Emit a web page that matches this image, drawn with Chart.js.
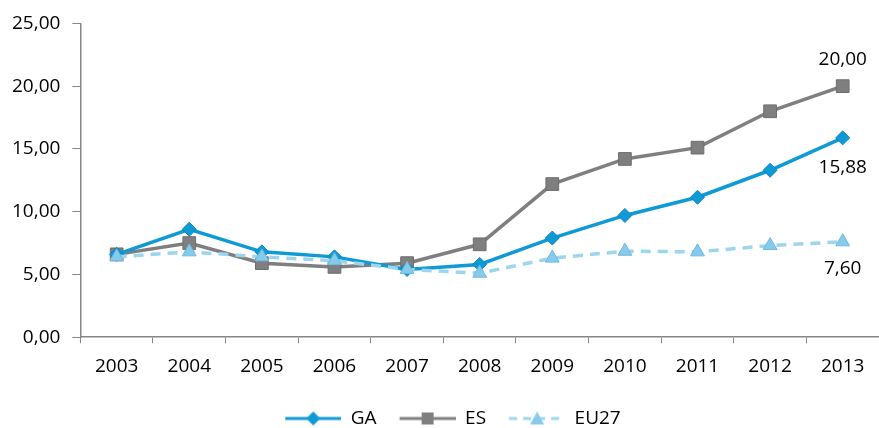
<!DOCTYPE html>
<html lang="en">
<head>
    <meta charset="UTF-8">
    <title>GA ES EU27</title>
    <script src="https://cdn.jsdelivr.net/npm/chart.js"></script>
    <style>
        html, body { margin: 0; padding: 0; background: #fff; overflow: hidden; }
        #wrap { width: 879px; height: 428px; }
    </style>
</head>
<body>
    <div id="wrap"><canvas id="chartCanvas"></canvas></div>

    <script>
        const years = ['2003', '2004', '2005', '2006', '2007', '2008', '2009', '2010', '2011', '2012', '2013'];
        const gaValues = [6.6, 8.6, 6.8, 6.4, 5.4, 5.8, 7.9, 9.7, 11.15, 13.3, 15.88];
        const esValues = [6.6, 7.5, 5.9, 5.6, 5.9, 7.4, 12.2, 14.2, 15.1, 18.0, 20.0];
        const eu27Values = [6.4, 6.8, 6.4, 6.1, 5.4, 5.1, 6.3, 6.85, 6.8, 7.3, 7.6];
        const yTicks = [0, 5, 10, 15, 20, 25];

        const FONT = '"Open Sans", "Noto Sans", sans-serif';
        const fmt = v => v.toFixed(2).replace('.', ',');

        // legend swatch: line + marker, with some blank room on the left as item spacing
        const GAP = 22;
        function swatch(color, style, dashed) {
            const c = document.createElement('canvas');
            c.width = 56 + GAP; c.height = 18;
            const g = c.getContext('2d');
            g.translate(GAP, 0);
            g.strokeStyle = color;
            g.lineWidth = 3;
            if (dashed) g.setLineDash([8, 6]);
            g.beginPath(); g.moveTo(0, 9); g.lineTo(56, 9); g.stroke();
            g.setLineDash([]);
            g.fillStyle = style === 'triangle' ? '#86cbeb' : color;
            g.beginPath();
            if (style === 'diamond') {
                g.moveTo(28, 2); g.lineTo(35, 9); g.lineTo(28, 16); g.lineTo(21, 9);
            } else if (style === 'square') {
                g.rect(22, 3, 12, 12);
            } else {
                g.moveTo(28, 2); g.lineTo(35, 15); g.lineTo(21, 15);
            }
            g.closePath(); g.fill();
            return c;
        }

        // value labels on the last point of each series
        const endLabels = {
            id: 'endLabels',
            afterDatasetsDraw(chart) {
                const ctx = chart.ctx;
                ctx.save();
                ctx.font = '19px ' + FONT;
                ctx.fillStyle = '#000';
                ctx.textAlign = 'center';
                ctx.textBaseline = 'middle';
                const offsets = [[0, 30], [1, -27], [2, 27]];
                offsets.forEach(([ds, dy]) => {
                    const meta = chart.getDatasetMeta(ds);
                    const last = meta.data.length - 1;
                    const pt = meta.data[last];
                    const v = chart.data.datasets[ds].data[last];
                    ctx.fillText(fmt(v), pt.x, pt.y + dy);
                });
                ctx.restore();
            }
        };

        const ctx = document.getElementById('chartCanvas').getContext('2d');
        new Chart(ctx, {
            type: 'line',
            data: {
                labels: years,
                datasets: [{
                    label: 'GA',
                    data: gaValues,
                    borderColor: '#0f9ad6',
                    backgroundColor: '#0f9ad6',
                    borderWidth: 3.5,
                    pointStyle: 'rectRot',
                    pointRadius: 7,
                    pointBorderColor: '#0b86bd',
                    pointBorderWidth: 1,
                    order: 2
                }, {
                    label: 'ES',
                    data: esValues,
                    borderColor: '#7f7f7f',
                    backgroundColor: '#7f7f7f',
                    borderWidth: 3.5,
                    pointStyle: 'rect',
                    pointRadius: 9,
                    pointBorderColor: '#6e6e6e',
                    pointBorderWidth: 1,
                    order: 3
                }, {
                    label: 'EU27',
                    data: eu27Values,
                    borderColor: '#9dd5ef',
                    backgroundColor: '#86cbeb',
                    borderWidth: 3.5,
                    borderDash: [10, 7],
                    pointStyle: 'triangle',
                    pointRadius: 8,
                    pointBorderColor: '#6fb9dc',
                    pointBorderWidth: 1,
                    order: 1
                }]
            },
            options: {
                responsive: true,
                maintainAspectRatio: false,
                animation: false,
                layout: { autoPadding: false, padding: { top: 22, right: -5, left: 0, bottom: -10 } },
                plugins: {
                    tooltip: { enabled: false },
                    legend: {
                        position: 'bottom',
                        labels: {
                            usePointStyle: true,
                            pointStyleWidth: 56 + GAP,
                            boxHeight: 18,
                            font: { size: 19, family: FONT },
                            color: '#000',
                            padding: 1,
                            generateLabels(chart) {
                                const styles = [['#0f9ad6', 'diamond', false], ['#7f7f7f', 'square', false], ['#9dd5ef', 'triangle', true]];
                                return chart.data.datasets.map((d, i) => ({
                                    text: d.label,
                                    pointStyle: swatch(...styles[i]),
                                    datasetIndex: i,
                                    fontColor: '#000',
                                    lineWidth: 0,
                                    strokeStyle: 'transparent',
                                    fillStyle: 'transparent'
                                }));
                            }
                        }
                    }
                },
                scales: {
                    x: {
                        offset: true,
                        afterFit(scale) {
                            scale.height += 18;
                            scale.paddingRight = 0;
                        },
                        grid: { display: true, offset: true, drawOnChartArea: false, drawTicks: true, tickLength: 6, color: '#868686' },
                        border: { display: true, color: '#868686', width: 1.5 },
                        ticks: { color: '#000', font: { size: 19, family: FONT }, padding: 12 }
                    },
                    y: {
                        min: 0,
                        max: 25,
                        afterBuildTicks(axis) { axis.ticks = yTicks.map(v => ({ value: v })); },
                        grid: { display: true, drawOnChartArea: false, drawTicks: true, tickLength: 8, color: '#868686' },
                        border: { display: true, color: '#868686', width: 1.5 },
                        ticks: { color: '#000', font: { size: 19, family: FONT }, padding: 12, callback: v => fmt(v) }
                    }
                }
            },
            plugins: [endLabels]
        });
    </script>
</body>
</html>
